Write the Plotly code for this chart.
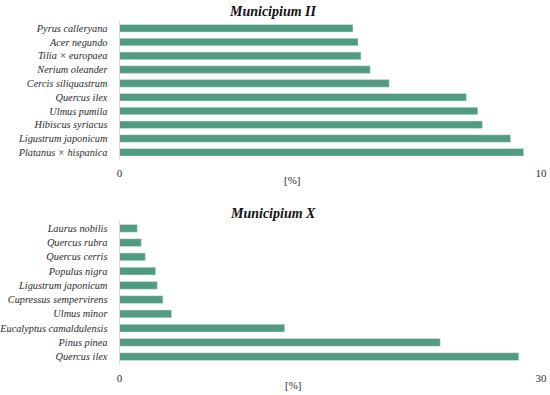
import plotly.graph_objects as go

cats_ii = ["Pyrus calleryana", "Acer negundo", "Tilia × europaea", "Nerium oleander",
           "Cercis siliquastrum", "Quercus ilex", "Ulmus pumila", "Hibiscus syriacus",
           "Ligustrum japonicum", "Platanus × hispanica"]
vals_ii = [5.54, 5.66, 5.73, 5.95, 6.40, 8.23, 8.50, 8.61, 9.28, 9.59]

cats_x = ["Laurus nobilis", "Quercus rubra", "Quercus cerris", "Populus nigra",
          "Ligustrum japonicum", "Cupressus sempervirens", "Ulmus minor",
          "Eucalyptus camaldulensis", "Pinus pinea", "Quercus ilex"]
vals_x = [1.27, 1.55, 1.84, 2.57, 2.69, 3.09, 3.71, 11.76, 22.83, 28.42]

title_ii = "Municipium II"
title_x = "Municipium X"
unit = "[%]"

W, H = 550, 395
color = "#519b80"
font = "Liberation Serif"
txt = "#2b2b2b"

def py(px):
    return 1 - px / H

fig = go.Figure()
fig.add_trace(go.Bar(y=cats_ii, x=vals_ii, orientation="h", marker_color=color,
                     width=0.55, xaxis="x", yaxis="y", showlegend=False))
fig.add_trace(go.Bar(y=cats_x, x=vals_x, orientation="h", marker_color=color,
                     width=0.55, xaxis="x2", yaxis="y2", showlegend=False))

xdom = [119.5 / W, 541 / W]
common_x = dict(showgrid=False, zeroline=False, showline=False, ticks="", automargin=False,
                tickfont=dict(family=font, size=11, color=txt), ticklabelstandoff=6)
common_y = dict(showgrid=False, zeroline=False, showline=True, linecolor="#d9d9d9",
                linewidth=1, ticks="", autorange="reversed", automargin=False,
                tickfont=dict(family=font, size=10.3, color=txt, style="italic"),
                ticklabelstandoff=9)

fig.update_layout(
    width=W, height=H,
    margin=dict(l=0, r=0, t=0, b=0),
    paper_bgcolor="white", plot_bgcolor="white",
    bargap=0.45,
    xaxis=dict(domain=xdom, range=[0, 10], tickvals=[0, 10], anchor="y", **common_x),
    yaxis=dict(domain=[py(159.2), py(21.4)], anchor="x", **common_y),
    xaxis2=dict(domain=xdom, range=[0, 30], tickvals=[0, 30], anchor="y2", **common_x),
    yaxis2=dict(domain=[py(363.8), py(221.2)], anchor="x2", **common_y),
    annotations=[
        dict(text="<b><i>" + title_ii + "</i></b>", x=273 / W, y=py(11), xref="paper", yref="paper",
             yanchor="middle", showarrow=False, font=dict(family=font, size=14, color="#111111")),
        dict(text="<b><i>" + title_x + "</i></b>", x=273 / W, y=py(213), xref="paper", yref="paper",
             yanchor="middle", showarrow=False, font=dict(family=font, size=14, color="#111111")),
        dict(text=unit, x=292 / W, y=py(180), xref="paper", yref="paper",
             yanchor="middle", showarrow=False, font=dict(family=font, size=11, color=txt)),
        dict(text=unit, x=293 / W, y=py(385), xref="paper", yref="paper",
             yanchor="middle", showarrow=False, font=dict(family=font, size=11, color=txt)),
    ],
)

fig.write_html("out.html", config={"displayModeBar": False},
               post_script="document.body.style.margin='0';")
